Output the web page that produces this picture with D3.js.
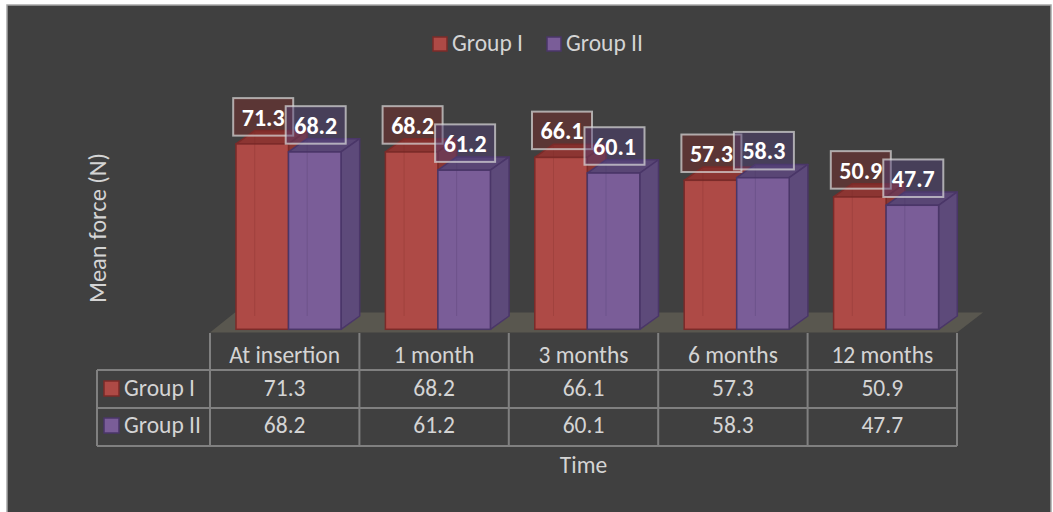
<!DOCTYPE html>
<html>
<head>
<meta charset="utf-8">
<script src="https://cdn.jsdelivr.net/npm/d3@7"></script>
<style>
    html, body { margin: 0; padding: 0; background: #fff; overflow: hidden; }
    text { font-family: Carlito, Lato, "Open Sans", sans-serif; }
</style>
</head>
<body>
<div id="page"></div>
<script>
var categories = ['At insertion', '1 month', '3 months', '6 months', '12 months'];
var seriesNames = ['Group I', 'Group II'];
var groupI = [71.3, 68.2, 66.1, 57.3, 50.9];
var groupII = [68.2, 61.2, 60.1, 58.3, 47.7];

var W = 1053, H = 512;
var faces = {
    'Group I': { front: '#ae4a46', side: '#8a3734', top: '#8c3532', line: '#7b2b29', label: 'rgba(125,42,40,0.45)' },
    'Group II': { front: '#7a5d98', side: '#5d4a7a', top: '#594675', line: '#4a3668', label: 'rgba(80,62,120,0.45)' }
};
var textCol = '#d4d4d4';
var gridCol = '#808080';
var depth = { dx: 18.7, dy: -13.3 };

window.onload = () => {
    let svg = d3.select('#page').append('svg').attr('width', W).attr('height', H);
    svg.append('rect').attr('x', 7).attr('y', 5).attr('width', 1044).attr('height', 520)
        .attr('fill', '#404040').attr('stroke', '#a6a6a6').attr('stroke-width', 1.5);

    let x = d3.scaleBand().domain(categories).range([210, 957]).paddingInner(0).paddingOuter(0);
    let xs = d3.scaleBand().domain(seriesNames).range([26, 131]);
    let y = d3.scaleLinear().domain([0, 80]).range([329.3, 329.3 - 208]);
    let rows = [groupI, groupII];

    // floor
    let fl = [[210, 332.5], [957, 332.5], [983, 312.5], [235, 312.5]];
    svg.append('polygon').attr('points', fl.map(p => p.join(',')).join(' '))
        .attr('fill', '#59574f');

    // bars
    let bars = svg.append('g');
    categories.forEach((c, ci) => {
        seriesNames.forEach((s, si) => {
            let v = rows[si][ci];
            let x0 = x(c) + xs(s), x1 = x0 + xs.bandwidth();
            let y0 = y(0), y1 = y(v);
            let f = faces[s];
            let g = bars.append('g');
            g.append('polygon').attr('points', [[x0, y1], [x1, y1], [x1 + depth.dx, y1 + depth.dy], [x0 + depth.dx, y1 + depth.dy]].map(p => p.join(',')).join(' '))
                .attr('fill', f.top).attr('stroke', f.line).attr('stroke-width', 1.5).attr('stroke-linejoin', 'round');
            g.append('polygon').attr('points', [[x1, y1], [x1 + depth.dx, y1 + depth.dy], [x1 + depth.dx, y0 + depth.dy], [x1, y0]].map(p => p.join(',')).join(' '))
                .attr('fill', f.side).attr('stroke', f.line).attr('stroke-width', 1.5).attr('stroke-linejoin', 'round');
            g.append('rect').attr('x', x0).attr('y', y1).attr('width', x1 - x0).attr('height', y0 - y1)
                .attr('fill', f.front).attr('stroke', f.line).attr('stroke-width', 1.5);
            // faint inner edge lines of the transparent box
            g.append('line').attr('x1', x0 + depth.dx).attr('x2', x0 + depth.dx).attr('y1', y1 + depth.dy).attr('y2', y0 + depth.dy)
                .attr('stroke', f.line).attr('stroke-opacity', 0.25);
        });
    });

    // data labels
    let labels = svg.append('g');
    categories.forEach((c, ci) => {
        seriesNames.forEach((s, si) => {
            let v = rows[si][ci];
            let bx = x(c) + xs(s) - 2.8, by = y(v) - 8.3 - 37.5;
            labels.append('rect').attr('x', bx).attr('y', by).attr('width', 60).attr('height', 37.5)
                .attr('fill', faces[s].label).attr('stroke', 'rgba(220,220,220,0.7)').attr('stroke-width', 2);
            labels.append('text').attr('x', bx + 30).attr('y', by + 27.5).attr('text-anchor', 'middle')
                .attr('font-size', 24).attr('font-weight', 'bold').attr('fill', '#fff').text(v.toFixed(1));
        });
    });

    // legend
    let leg = svg.append('g');
    let legX = [433, 547];
    seriesNames.forEach((s, i) => {
        leg.append('rect').attr('x', legX[i]).attr('y', 37).attr('width', 14).attr('height', 14)
            .attr('fill', faces[s].front).attr('stroke', faces[s].line).attr('stroke-width', 1.5);
        leg.append('text').attr('x', legX[i] + 19).attr('y', 51).attr('font-size', 23.5).attr('fill', textCol).text(s);
    });

    // axis title
    svg.append('text').attr('transform', 'translate(106,228) rotate(-90)').attr('text-anchor', 'middle')
        .attr('font-size', 24.5).attr('fill', textCol).text('Mean force (N)');

    // data table
    let tb = svg.append('g').attr('stroke', gridCol).attr('stroke-width', 2);
    let edges = categories.map(c => x(c)).concat([x.range()[1]]);
    edges.forEach(e => tb.append('line').attr('x1', e).attr('x2', e).attr('y1', 333).attr('y2', 446));
    tb.append('line').attr('x1', 97).attr('x2', 97).attr('y1', 370).attr('y2', 446);
    [370, 408, 446].forEach(r => tb.append('line').attr('x1', 97).attr('x2', 957).attr('y1', r).attr('y2', r));

    let tt = svg.append('g').attr('font-size', 23.5).attr('fill', textCol);
    categories.forEach(c => {
        tt.append('text').attr('x', x(c) + x.bandwidth() / 2).attr('y', 363).attr('text-anchor', 'middle').text(c);
    });
    let rowY = [396, 433];
    seriesNames.forEach((s, si) => {
        tt.append('rect').attr('x', 104).attr('y', rowY[si] - 15).attr('width', 15).attr('height', 15)
            .attr('fill', faces[s].front).attr('stroke', faces[s].line).attr('stroke-width', 1.5);
        tt.append('text').attr('x', 124).attr('y', rowY[si]).text(s);
        categories.forEach((c, ci) => {
            tt.append('text').attr('x', x(c) + x.bandwidth() / 2).attr('y', rowY[si]).attr('text-anchor', 'middle')
                .text(rows[si][ci].toFixed(1));
        });
    });
    svg.append('text').attr('x', 583.5).attr('y', 473).attr('text-anchor', 'middle')
        .attr('font-size', 23.5).attr('fill', textCol).text('Time');
};
</script>
</body>
</html>
